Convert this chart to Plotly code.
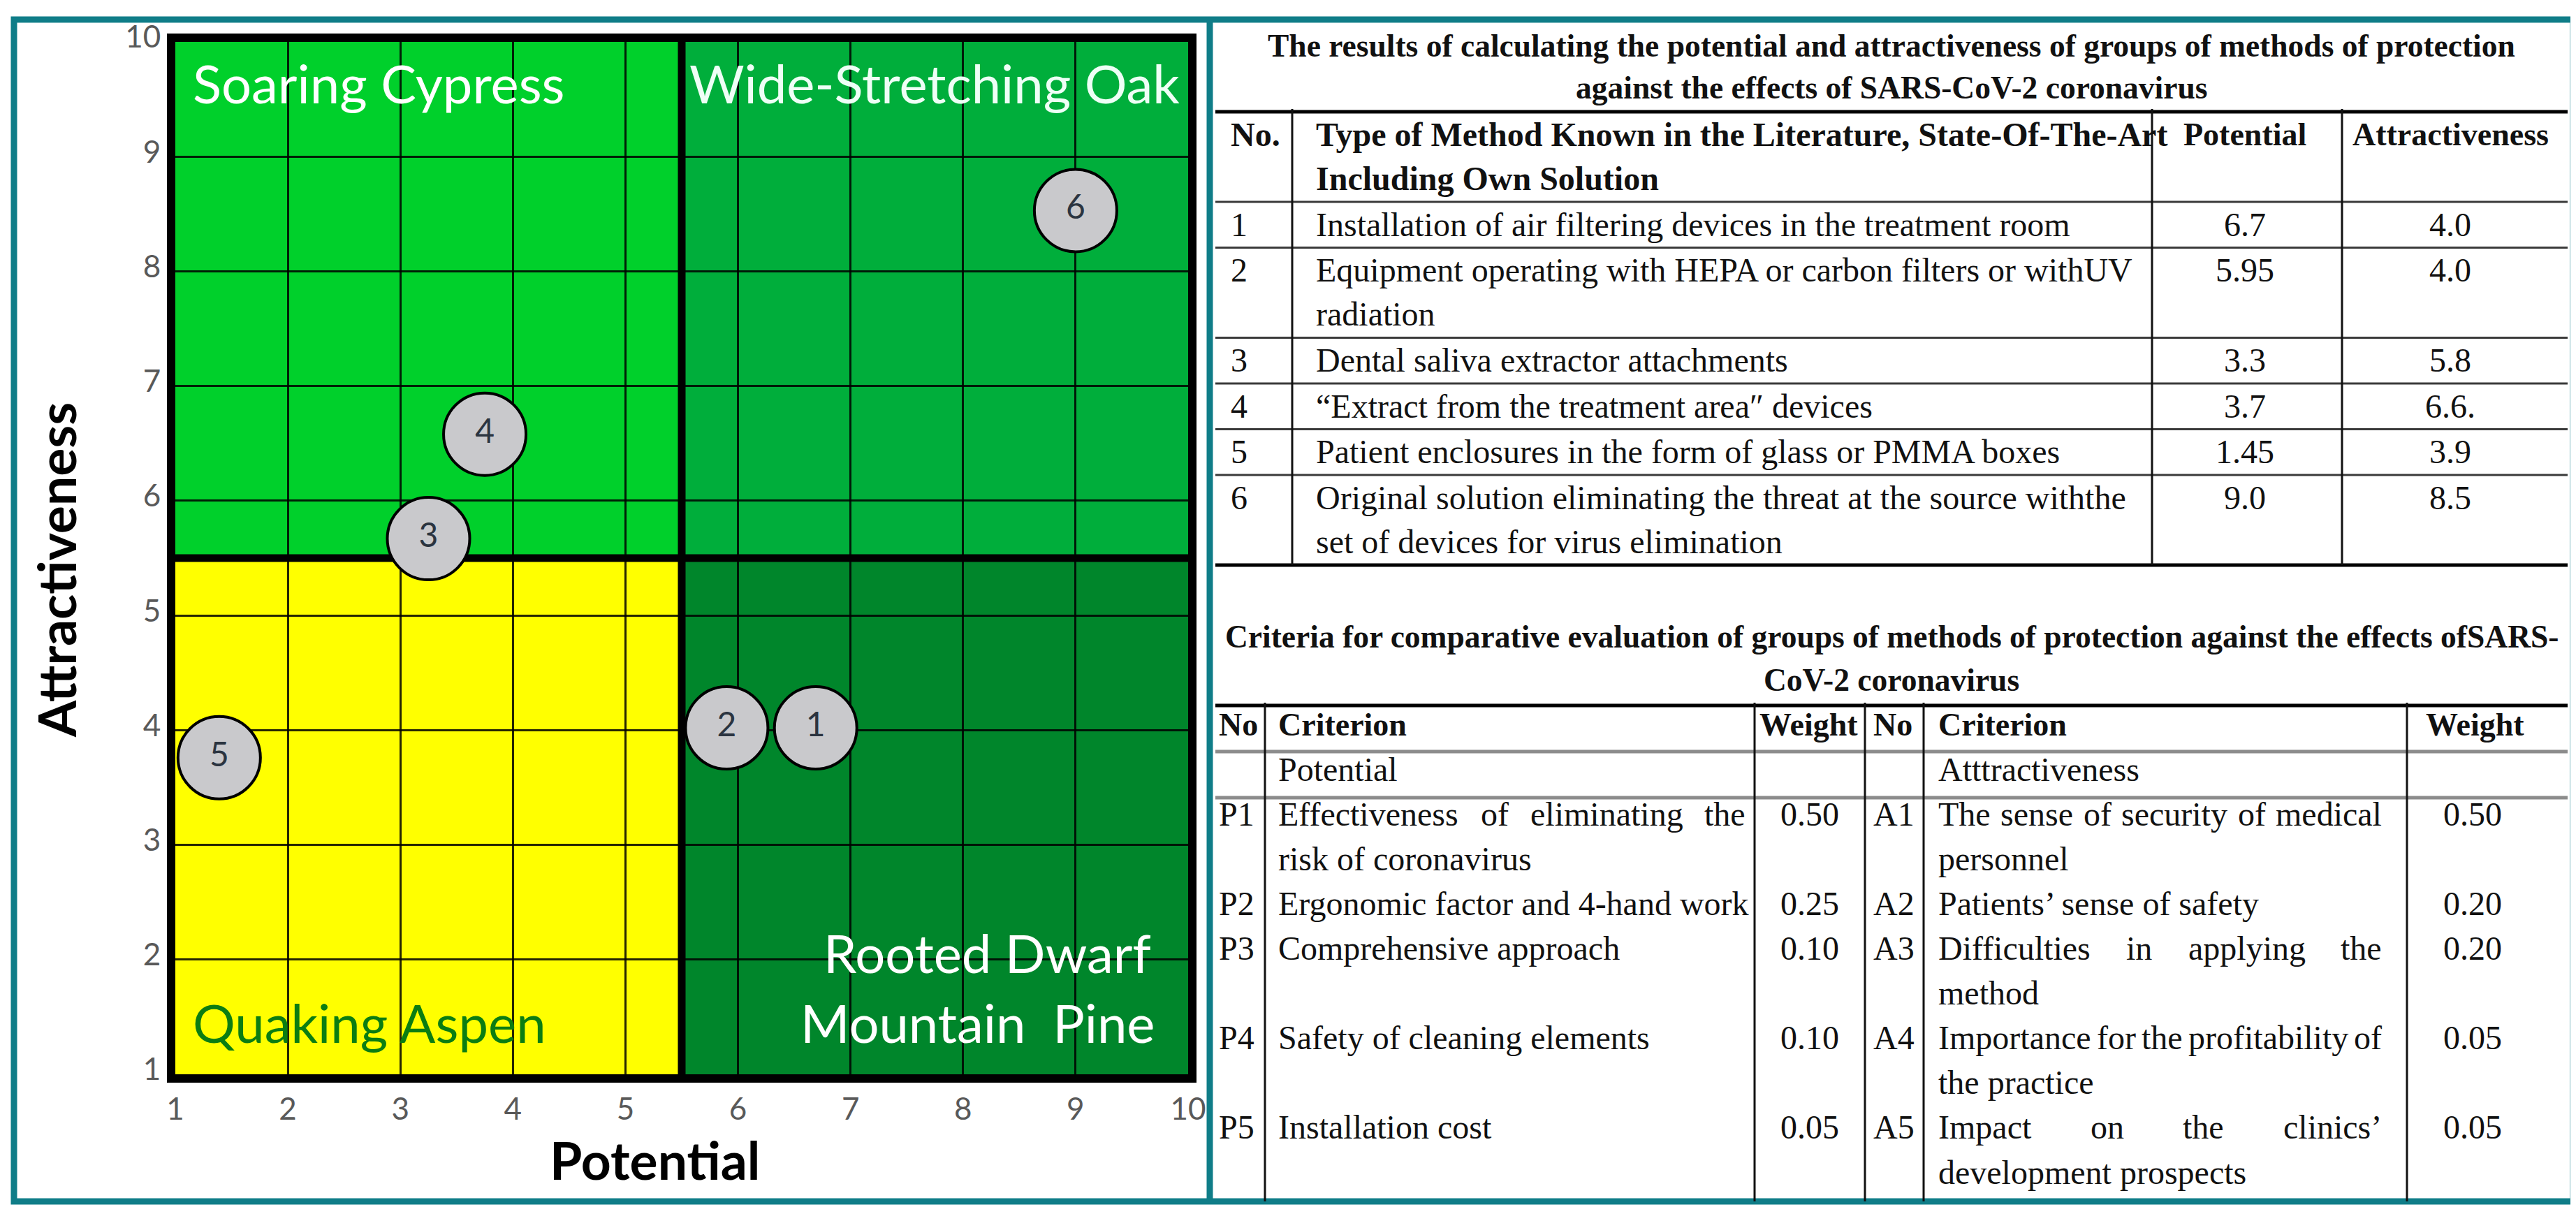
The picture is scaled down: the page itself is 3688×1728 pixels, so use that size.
import plotly.graph_objects as go

W, H = 3688, 1728

# ---- bubble chart data (positions as drawn in the chart) ----
method_ids = ["1", "2", "3", "4", "5", "6"]
bubble_x = [6.69, 5.90, 3.25, 3.75, 1.39, 9.0]
bubble_y = [4.02, 4.02, 5.67, 6.58, 3.76, 8.53]
axis_ticks = [1, 2, 3, 4, 5, 6, 7, 8, 9, 10]
split = 5.5

quadrant_names = ["Soaring Cypress", "Wide-Stretching Oak", "Quaking Aspen",
                  "Rooted Dwarf", "Mountain  Pine"]

# ---- table 1 ----
table1_title = ["The results of calculating the potential and attractiveness of groups of methods of protection",
                "against the effects of SARS-CoV-2 coronavirus"]
table1_header = ["No.", "Type of Method Known in the Literature, State-Of-The-Art\nIncluding Own Solution",
                 "Potential", "Attractiveness"]
method_names = [
    "Installation of air filtering devices in the treatment room",
    "Equipment operating with HEPA or carbon filters or withUV\nradiation",
    "Dental saliva extractor attachments",
    "\u201cExtract from the treatment area\u2033 devices",
    "Patient enclosures in the form of glass or PMMA boxes",
    "Original solution eliminating the threat at the source withthe\nset of devices for virus elimination",
]
potential_text = ["6.7", "5.95", "3.3", "3.7", "1.45", "9.0"]
attractiveness_text = ["4.0", "4.0", "5.8", "6.6.", "3.9", "8.5"]

# ---- table 2 ----
table2_title = ["Criteria for comparative evaluation of groups of methods of protection against the effects ofSARS-",
                "CoV-2 coronavirus"]
table2_header = ["No", "Criterion", "Weight", "No", "Criterion", "Weight"]
group_names = ["Potential", "Atttractiveness"]
pot_codes = ["P1", "P2", "P3", "P4", "P5"]
pot_criteria = ["Effectiveness of eliminating the\nrisk of coronavirus", "Ergonomic factor and 4-hand work",
                "Comprehensive approach", "Safety of cleaning elements", "Installation cost"]
pot_weights = ["0.50", "0.25", "0.10", "0.10", "0.05"]
att_codes = ["A1", "A2", "A3", "A4", "A5"]
att_criteria = ["The sense of security of medical\npersonnel", "Patients\u2019 sense of safety",
                "Difficulties in applying the\nmethod", "Importance for the profitability of\nthe practice",
                "Impact on the clinics\u2019\ndevelopment prospects"]
att_weights = ["0.50", "0.20", "0.20", "0.05", "0.05"]

# rough Times glyph widths (per 1000 em) used to justify wrapped lines
glyph_w = {" ": 250, "a": 444, "b": 500, "c": 444, "d": 500, "e": 444, "f": 333, "g": 500, "h": 500,
           "i": 278, "j": 278, "k": 500, "l": 278, "m": 778, "n": 500, "o": 500, "p": 500, "q": 500,
           "r": 333, "s": 389, "t": 278, "u": 500, "v": 500, "w": 722, "x": 500, "y": 500, "z": 444,
           "A": 722, "D": 722, "E": 611, "I": 333, "P": 556, "T": 611, "\u2019": 333}


def px(x):
    return x / W


def py(y):
    return 1 - y / H


annotations = []
shapes = []


def txt(x, y, s, size=48, bold=False, anchor="left", color="#111111", family="Liberation Serif", angle=0):
    annotations.append(dict(x=px(x), y=py(y), xref="paper", yref="paper",
                            text="<b>%s</b>" % s if bold else s, showarrow=False,
                            xanchor=anchor, yanchor="middle", textangle=angle,
                            font=dict(family=family, size=size, color=color)))


def justified(x0, x1, y, s, size=48):
    words = s.split(" ")
    widths = [sum(glyph_w.get(c, 500) for c in w) * size / 1000 for w in words]
    gap = (x1 - x0 - sum(widths)) / (len(words) - 1)
    x = x0
    for w, wd in zip(words, widths):
        txt(x, y, w, size=size)
        x += wd + gap


def hline(y, x0, x1, color="#333333", width=3):
    shapes.append(dict(type="line", xref="paper", yref="paper", x0=px(x0), x1=px(x1),
                       y0=py(y), y1=py(y), line=dict(color=color, width=width)))


def vline(x, y0, y1, color="#111111", width=3):
    shapes.append(dict(type="line", xref="paper", yref="paper", x0=px(x), x1=px(x),
                       y0=py(y0), y1=py(y1), line=dict(color=color, width=width)))


# ---- quadrant backgrounds and dividers ----
lo, hi = axis_ticks[0], axis_ticks[-1]
quads = [(lo, split, split, hi, "#00d02b"), (split, hi, split, hi, "#00ae3b"),
         (lo, split, lo, split, "#ffff00"), (split, hi, lo, split, "#00862b")]
for x0, x1, y0, y1, c in quads:
    shapes.append(dict(type="rect", xref="x", yref="y", x0=x0, x1=x1, y0=y0, y1=y1,
                       fillcolor=c, line=dict(width=0), layer="below"))
shapes.append(dict(type="line", xref="x", yref="y", x0=split, x1=split, y0=lo, y1=hi,
                   line=dict(color="black", width=11), layer="between"))
shapes.append(dict(type="line", xref="x", yref="y", x0=lo, x1=hi, y0=split, y1=split,
                   line=dict(color="black", width=11), layer="between"))

fig = go.Figure()
fig.add_trace(go.Scatter(
    x=bubble_x, y=bubble_y, text=method_ids, mode="markers+text",
    marker=dict(size=118, color="#c9c9cc", line=dict(color="black", width=4)),
    textposition="middle center",
    textfont=dict(family="Lato", size=48, color="#2b3440"),
    hoverinfo="skip", showlegend=False, cliponaxis=False))

# quadrant labels
qfont = "Lato"
txt(266, 110, quadrant_names[0], size=76, anchor="left", color="white", family=qfont)
txt(1683, 110, quadrant_names[1], size=76, anchor="right", color="#eefff6", family=qfont)
txt(266, 1455, quadrant_names[2], size=76, anchor="left", color="#0b7d12", family=qfont)
txt(1405, 1355, quadrant_names[3], size=76, anchor="center", color="white", family=qfont)
txt(1392, 1455, quadrant_names[4], size=76, anchor="center", color="white", family=qfont)

# axis titles
txt(72, 808, "Attractiveness", size=75, bold=True, anchor="center", color="black", family="Lato", angle=-90)
txt(929, 1652, "Potential", size=75, bold=True, anchor="center", color="black", family="Lato")

# ---- outer teal frame ----
teal = "#0f7d88"
shapes.append(dict(type="rect", xref="paper", yref="paper", x0=px(12), x1=px(3676), y0=py(1712), y1=py(20),
                   line=dict(color=teal, width=9), fillcolor="rgba(0,0,0,0)"))
vline(1724, 20, 1712, color=teal, width=9)

# ---- table 1 ----
tl, tr = 1732, 3668
c_no, c_type, c_pot, c_att = 1752, 1874, 3206, 3500
line_h = 63.5
txt(2700, 57, table1_title[0], size=45.5, bold=True, anchor="center")
txt(2700, 117, table1_title[1], size=45.5, bold=True, anchor="center")

rows = [table1_header] + [[method_ids[i], method_names[i], potential_text[i], attractiveness_text[i]]
                          for i in range(len(method_ids))]
top = 152
hline(top, tl, tr, color="black", width=5)
for r, row in enumerate(rows):
    bold = r == 0
    lines = row[1].split("\n")
    y = top + 32
    txt(c_no, y, row[0], bold=bold)
    for k, ln in enumerate(lines):
        txt(c_type, y + k * line_h, ln, bold=bold)
    txt(c_pot, y, row[2], bold=bold, anchor="center", size=46 if bold else 48)
    txt(c_att, y, row[3], bold=bold, anchor="center", size=46 if bold else 48)
    top = top + len(lines) * line_h + 2
    last = r == len(rows) - 1
    hline(top, tl, tr, color="black" if last else "#3a3a3a", width=5 if last else 3)
t1_bottom = top
for xv in (1842, 3073, 3345):
    vline(xv, 148, t1_bottom)

# ---- table 2 ----
txt(2700, 903, table2_title[0], size=45.5, bold=True, anchor="center")
txt(2700, 965, table2_title[1], size=45.5, bold=True, anchor="center")
t2_top = 1002
lh2 = 64.1
hline(t2_top, tl, tr, color="black", width=5)
hline(1068, tl, tr, color="#8c8c8c", width=5)
hline(1134, tl, tr, color="#8c8c8c", width=5)
for xv in (1803, 2504, 2662, 2746, 3438):
    vline(xv, t2_top - 4, 1712)

y0 = 1029
hx = [1735, 1820, 2509, 2672, 2765, 3463]
for i, h in enumerate(table2_header):
    txt(hx[i], y0, h, bold=True, size=46)
txt(1820, y0 + lh2, group_names[0])
txt(2765, y0 + lh2, group_names[1])


def cell(x0, x1, yl, s):
    lines = s.split("\n")
    for j, ln in enumerate(lines):
        if j == 0 and len(lines) > 1:
            justified(x0, x1, yl, ln)
        else:
            txt(x0, yl + j * lh2, ln)
    return len(lines)


k = 2
for i in range(len(pot_codes)):
    yl = y0 + k * lh2
    txt(1735, yl, pot_codes[i])
    n_left = cell(1820, 2489, yl, pot_criteria[i])
    txt(2583, yl, pot_weights[i], anchor="center")
    txt(2672, yl, att_codes[i])
    n_right = cell(2765, 3400, yl, att_criteria[i])
    txt(3532, yl, att_weights[i], anchor="center")
    k += max(n_left, n_right)

axis_style = dict(range=[lo, hi], tickvals=axis_ticks, automargin=False,
                  showgrid=True, gridcolor="rgba(0,0,0,0.85)", gridwidth=3,
                  showline=True, mirror=True, linecolor="black", linewidth=12,
                  ticks="", zeroline=False,
                  tickfont=dict(family="Lato", size=44, color="#595959"))

fig.update_layout(
    width=W, height=H, autosize=False, margin=dict(l=0, r=0, t=0, b=0, pad=0),
    paper_bgcolor="white", plot_bgcolor="white",
    shapes=shapes, annotations=annotations,
    xaxis=dict(domain=[px(243), px(1693)], **axis_style),
    yaxis=dict(domain=[py(1530), py(52)], ticklabelshift=-7, **axis_style),
)

fig.write_html("out.html")
